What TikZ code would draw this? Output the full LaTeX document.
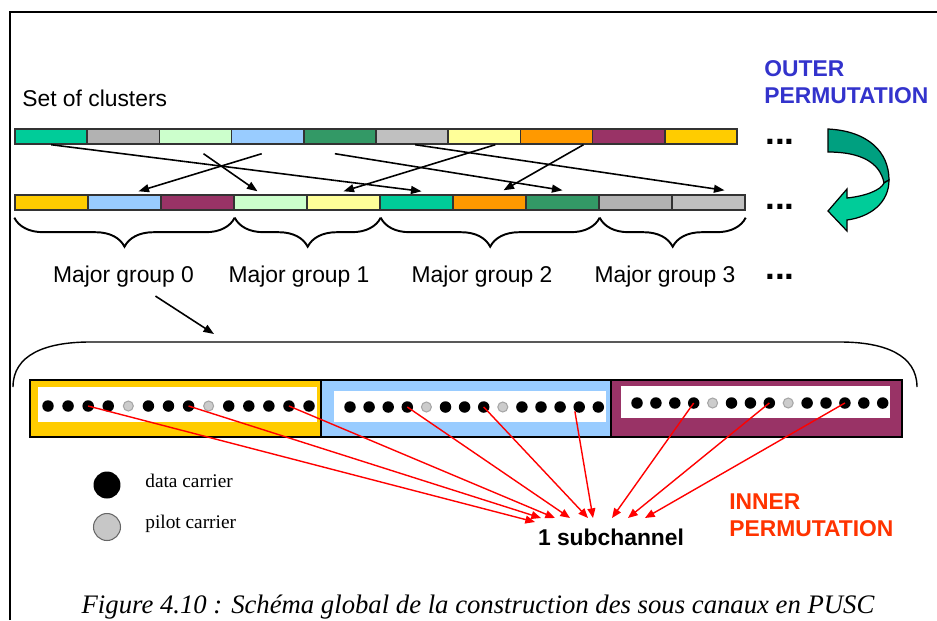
\documentclass[tikz,border=0pt]{standalone}
\usepackage{fontspec}
\setmainfont{Liberation Sans}
\newfontfamily\timesfont{Liberation Serif}
\usetikzlibrary{arrows.meta,calc,decorations.pathreplacing}

\definecolor{tealc}{RGB}{0,204,153}
\definecolor{grayc}{RGB}{178,178,178}
\definecolor{lgreen}{RGB}{204,255,204}
\definecolor{lblue}{RGB}{153,204,255}
\definecolor{dgreen}{RGB}{51,153,102}
\definecolor{lgray}{RGB}{192,192,192}
\definecolor{lyellow}{RGB}{255,255,153}
\definecolor{orangec}{RGB}{255,153,0}
\definecolor{maroonc}{RGB}{153,51,102}
\definecolor{goldc}{RGB}{255,204,0}
\definecolor{outerblue}{RGB}{51,51,204}
\definecolor{innerred}{RGB}{255,51,0}
\definecolor{arrowdark}{RGB}{0,160,128}

% carrier pattern of one cluster strip
\def\carriers{0/dat,1/dat,2/dat,3/dat,4/pil,5/dat,6/dat,7/dat,8/pil,9/dat,10/dat,11/dat,12/dat,13/dat}

\begin{document}
\begin{tikzpicture}[x=0.02cm,y=-0.02cm,
  tcell/.style={draw=black!80,line width=.8pt,fill=#1,minimum width=1.444cm,minimum height=.3cm,inner sep=0pt},
  bcell/.style={draw=black!80,line width=.8pt,fill=#1,minimum width=1.46cm,minimum height=.3cm,inner sep=0pt},
  lbl/.style={font=\fontsize{13}{15.3}\selectfont,inner sep=0pt},
  more/.style={font=\fontsize{20}{24}\selectfont\bfseries,inner sep=0pt,anchor=base west},
  blk/.style={-{Triangle[length=6pt,width=4.5pt]},line width=.9pt},
  redarr/.style={-{Triangle[length=5.5pt,width=4.5pt]},line width=.8pt,red},
  brc/.style={decorate,decoration={brace,amplitude=.58cm,raise=.14cm},line width=1.1pt},
  grp/.style={draw=black,line width=1.2pt,fill=#1,minimum width=5.813cm,minimum height=1.14cm,inner sep=0pt},
  strip/.style={fill=white,inner sep=0pt},
  dat/.style={circle,fill=black,minimum size=.23cm,inner sep=0pt},
  pil/.style={circle,fill=black!20,draw=black!35,line width=.6pt,minimum size=.2cm,inner sep=0pt}]
          \useasboundingbox (0,0) rectangle (937,620);
          \draw[line width=1.1pt] (10,620) -- (10,12) -- (937,12);
          \node[lbl,anchor=base west] (set) at (22,106) {Set of clusters};
          \node[lbl,font=\fontsize{13}{15.3}\selectfont\bfseries,text=outerblue,align=left,anchor=base west] (outer) at (764,103) {OUTER\\PERMUTATION};
          \node[tcell=tealc]   (t0) at (51.1,136.5) {};   % set of clusters
          \node[tcell=grayc]   (t1) at (123.3,136.5) {};
          \node[tcell=lgreen]  (t2) at (195.5,136.5) {};
          \node[tcell=lblue]   (t3) at (267.7,136.5) {};
          \node[tcell=dgreen]  (t4) at (339.9,136.5) {};
          \node[tcell=lgray]   (t5) at (412.1,136.5) {};
          \node[tcell=lyellow] (t6) at (484.3,136.5) {};
          \node[tcell=orangec] (t7) at (556.5,136.5) {};
          \node[tcell=maroonc] (t8) at (628.7,136.5) {};
          \node[tcell=goldc]   (t9) at (700.9,136.5) {};
          \node[bcell=goldc]   (b0) at (51.5,202.5) {};   % permuted clusters
          \node[bcell=lblue]   (b1) at (124.5,202.5) {};
          \node[bcell=maroonc] (b2) at (197.5,202.5) {};
          \node[bcell=lgreen]  (b3) at (270.5,202.5) {};
          \node[bcell=lyellow] (b4) at (343.5,202.5) {};
          \node[bcell=tealc]   (b5) at (416.5,202.5) {};
          \node[bcell=orangec] (b6) at (489.5,202.5) {};
          \node[bcell=dgreen]  (b7) at (562.5,202.5) {};
          \node[bcell=grayc]   (b8) at (635.5,202.5) {};
          \node[bcell=lgray]   (b9) at (708.5,202.5) {};
          \node[more] (more0) at (765,144) {...};
          \node[more] (more1) at (765,209) {...};
          \draw[blk] (t0.south) -- ($(b5.north)+(5,-3)$);
          \draw[blk] ($(t3.south)+(-6,9)$) -- ($(b1.north)+(14,-3)$);
          \draw[blk] ($(t2.south)+(8,9)$) -- ($(b3.north)+(-13,-3)$);
          \draw[blk] ($(t4.south)+(-5,9)$) -- ($(b7.north)+(0,-4)$);
          \draw[blk] ($(t5.south)+(3,0)$) -- ($(b9.north)+(16,-4)$);
          \draw[blk] ($(t6.south)+(11,0)$) -- ($(b4.north)+(0,-3)$);
          \draw[blk] ($(t7.south)+(27,0)$) -- ($(b6.north)+(14,-4)$);
          % outer permutation arrow
          \filldraw[fill=arrowdark,draw=black,line width=.7pt] (828,129) .. controls (868,131) and (889,152) .. (889,180) -- (884,183) .. controls (880,162) and (860,152) .. (828,152) -- cycle;
          \filldraw[fill=tealc,draw=black,line width=.7pt] (889,180) .. controls (889,203) and (870,217) .. (847,220) -- (847,231) -- (828,211) -- (847,189) -- (847,198) .. controls (866,196) and (881,190) .. (884,183) -- cycle;
          \draw[brc] (b2.south east) -- (b0.south west);
          \draw[brc] (b4.south east) -- (b2.south east);
          \draw[brc] (b7.south east) -- (b4.south east);
          \draw[brc] (b9.south east) -- (b7.south east);
          \node[lbl,anchor=base] (mg0) at (123.5,282) {Major group 0};
          \node[lbl,anchor=base] (mg1) at (299,282) {Major group 1};
          \node[lbl,anchor=base] (mg2) at (482,282) {Major group 2};
          \node[lbl,anchor=base] (mg3) at (665,282) {Major group 3};
          \node[more] (more2) at (765,279) {...};
          \coordinate (brk) at (214,334);
          \draw[blk] ($(mg0.south)+(32,9)$) -- (brk);
          \draw[line width=.8pt] (13,387) .. controls (13,355) and (45,342) .. (90,342) -- (840,342) .. controls (885,342) and (917,355) .. (917,387);
          % major group 0 in detail
          \node[grp=goldc]   (g0) at (175.3,408.5) {};
          \node[grp=lblue]   (g1) at (466,408.5) {};
          \node[grp=maroonc] (g2) at (756.7,408.5) {};
          \node[strip,minimum width=5.58cm,minimum height=.7cm]  (s0) at (177.5,404.5) {};
          \node[strip,minimum width=5.44cm,minimum height=.62cm] (s1) at (470,406.5) {};
          \node[strip,minimum width=5.38cm,minimum height=.64cm] (s2) at (755.5,402) {};
          \foreach \k/\t in \carriers \node[\t] (d0-\k) at (48+20.08*\k,406) {};
          \foreach \k/\t in \carriers \node[\t] (d1-\k) at (350+19.1*\k,407) {};
          \foreach \k/\t in \carriers \node[\t] (d2-\k) at (637+18.9*\k,403) {};
          \node[lbl,font=\fontsize{13}{15}\selectfont\bfseries,anchor=base] (sub) at (611,545) {1 subchannel};
          \coordinate (e0) at (535,522);
          \coordinate (e1) at (541,518);
          \coordinate (e2) at (555,518);
          \coordinate (e3) at (570,518);
          \coordinate (e4) at (588,518);
          \coordinate (e5) at (593,518);
          \coordinate (e6) at (612,518);
          \coordinate (e7) at (628,518);
          \coordinate (e8) at (645,518);
          \foreach \s/\e in {d0-2/e0,d0-7/e1,d0-12/e2,d1-3/e3,d1-7/e4,d2-3/e6,d2-7/e7,d2-11/e8}
            \draw[redarr] (\s.center) -- (\e);
          \draw[redarr] (d1-12.south west) -- (e5);
          \node[lbl,font=\fontsize{13}{15.3}\selectfont\bfseries,text=innerred,align=left,anchor=base west] (inner) at (729,536) {INNER\\PERMUTATION};
          % legend
          \node[dat,minimum size=.54cm] (kd) at (107,485) {};
          \node[pil,minimum size=.54cm,fill=black!22,draw=black!60] (kp) at (107,527) {};
          \node[font=\timesfont\fontsize{11}{13}\selectfont,inner sep=0pt,anchor=base west] (kdt) at (145,487) {data carrier};
          \node[font=\timesfont\fontsize{11}{13}\selectfont,inner sep=0pt,anchor=base west] (kpt) at (145,528) {pilot carrier};
          \node[font=\timesfont\itshape\fontsize{15.2}{18}\selectfont,inner sep=0pt,anchor=base] (cap) at (478,613) {Figure 4.10 : Schéma global de la construction des sous canaux en PUSC};
        \end{tikzpicture}
\end{document}
